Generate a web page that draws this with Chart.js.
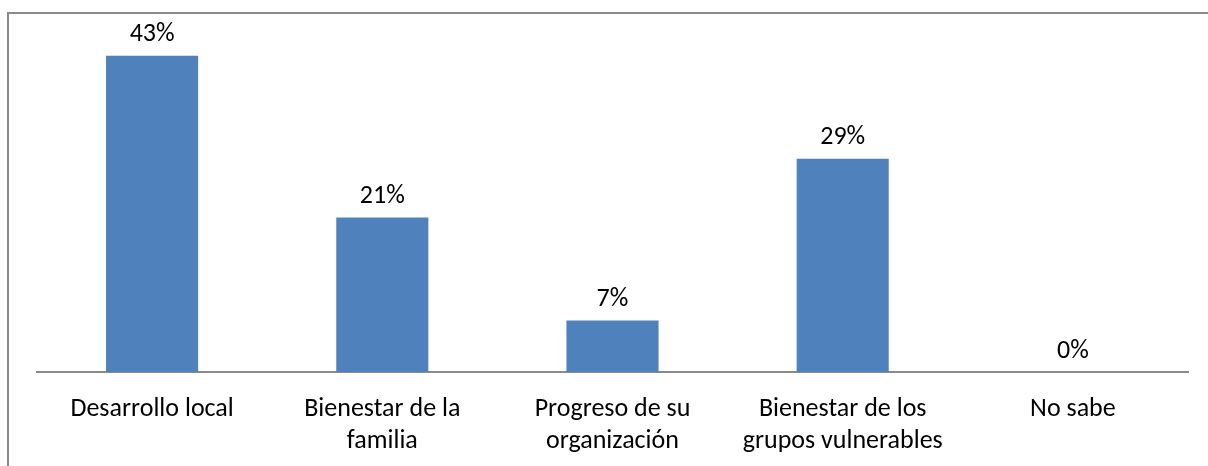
<!DOCTYPE html>
<html>
<head>
<meta charset="utf-8">
<script src="https://cdn.jsdelivr.net/npm/chart.js@4"></script>
<style>
  body { margin: 0; background: #fff; }
  #frame {
    position: absolute; left: 7px; top: 12px; width: 1210px; height: 460px;
    border-left: 2px solid #8a8a8a; border-top: 2px solid #8a8a8a;
  }
  #chart { position: absolute; left: 0; top: 0; }
</style>
</head>
<body>
<div id="frame"></div>
<canvas id="chart" width="1208" height="466"></canvas>
<script>
const categories = [
  "Desarrollo local",
  ["Bienestar de la", "familia"],
  ["Progreso de su", "organización"],
  ["Bienestar de los", "grupos vulnerables"],
  "No sabe"
];
const percentages = [43, 21, 7, 29, 0];

const FONT = "Carlito, Calibri, 'Open Sans', sans-serif";

// percent labels above each bar
const valueLabels = {
  id: "valueLabels",
  afterDatasetsDraw(chart) {
    const ctx = chart.ctx;
    const meta = chart.getDatasetMeta(0);
    ctx.save();
    ctx.fillStyle = "#000";
    ctx.font = "26px " + FONT;
    ctx.textAlign = "center";
    ctx.textBaseline = "bottom";
    meta.data.forEach((bar, i) => {
      ctx.fillText(percentages[i] + "%", bar.x, bar.y - 8);
    });
    ctx.restore();
  }
};

new Chart(document.getElementById("chart"), {
  type: "bar",
  data: {
    labels: categories,
    datasets: [{
      data: percentages,
      backgroundColor: "#4f81bd",
      borderWidth: 0,
      barPercentage: 0.4,
      categoryPercentage: 1.0
    }]
  },
  options: {
    responsive: false,
    animation: false,
    devicePixelRatio: 1,
    layout: { padding: { left: 37, right: 20, top: 41, bottom: 0 } },
    plugins: { legend: { display: false }, tooltip: { enabled: false } },
    scales: {
      x: {
        grid: { display: false, drawTicks: false },
        border: { display: true, color: "#8a8a8a", width: 2 },
        ticks: {
          color: "#000",
          font: { size: 26, family: FONT, lineHeight: 1.23 },
          padding: 22,
          maxRotation: 0,
          autoSkip: false
        },
        afterFit: (scale) => { scale.height = 94; }
      },
      y: {
        display: false,
        min: 0,
        max: 45
      }
    }
  },
  plugins: [valueLabels]
});
</script>
</body>
</html>
